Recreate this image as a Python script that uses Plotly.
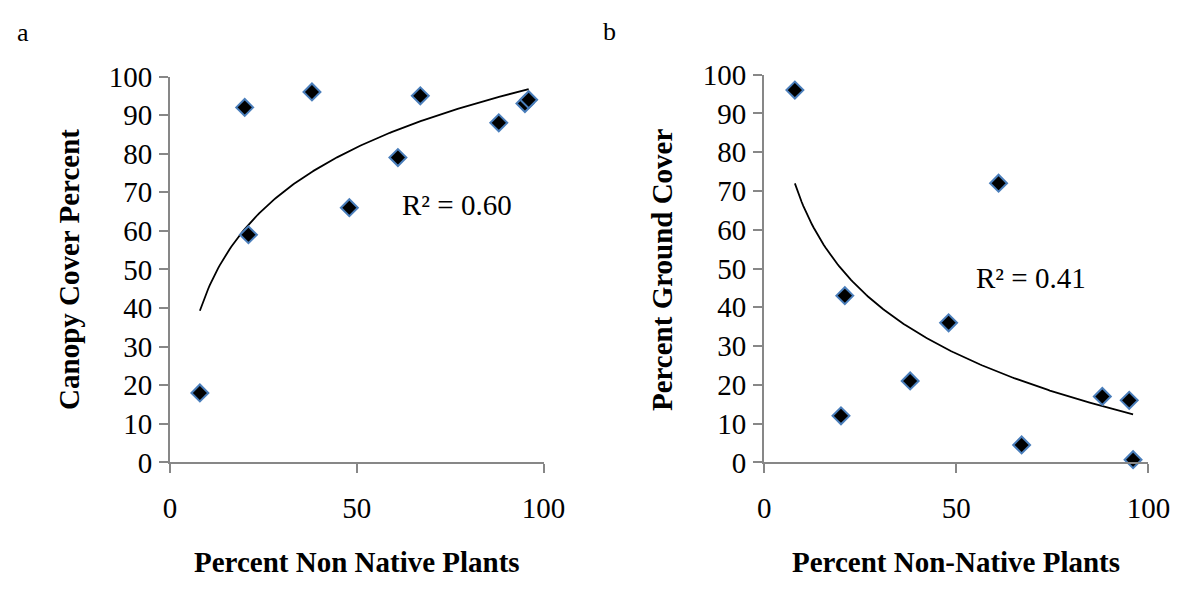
import numpy as np
import plotly.graph_objects as go

# ---- data ----
non_native_a = [8, 20, 21, 38, 48, 61, 67, 88, 95, 96]
canopy_cover = [18, 92, 59, 96, 66, 79, 95, 88, 93, 94]

non_native_b = [8, 20, 21, 38, 48, 61, 67, 88, 95, 96]
ground_cover = [96, 12, 43, 21, 36, 72, 4.5, 17, 16, 0.7]

r2_labels = ["R² = 0.60", "R² = 0.41"]
x_ticks = [0, 50, 100]
y_ticks = list(range(0, 101, 10))

FONT = "Liberation Serif"
AXIS_GREY = "#878787"
MARKER_EDGE = "#4a7ebb"


def log_fit(x, y):
    x = np.asarray(x, float)
    y = np.asarray(y, float)
    a, b = np.polyfit(np.log(x), y, 1)
    xs = np.linspace(x.min(), x.max(), 200)
    return xs, a * np.log(xs) + b


fig = go.Figure()

for i, (xv, yv) in enumerate([(non_native_a, canopy_cover), (non_native_b, ground_cover)]):
    xa = "x" if i == 0 else "x2"
    ya = "y" if i == 0 else "y2"
    xs, ys = log_fit(xv, yv)
    fig.add_trace(go.Scatter(x=xs, y=ys, mode="lines", xaxis=xa, yaxis=ya,
                             line=dict(color="black", width=1.8),
                             showlegend=False, hoverinfo="skip"))
    fig.add_trace(go.Scatter(x=xv, y=yv, mode="markers", xaxis=xa, yaxis=ya,
                             marker=dict(symbol="diamond", size=13, color="black",
                                         line=dict(color=MARKER_EDGE, width=2)),
                             cliponaxis=False, showlegend=False))

axis_common = dict(range=[0, 100], showgrid=False, zeroline=False, showline=True,
                   linecolor=AXIS_GREY, linewidth=2, ticks="outside", ticklen=9,
                   tickwidth=2, tickcolor=AXIS_GREY,
                   tickfont=dict(family=FONT, size=29, color="black"))

fig.update_layout(
    width=1189, height=590,
    margin=dict(l=0, r=0, t=0, b=0),
    paper_bgcolor="white", plot_bgcolor="white",
    xaxis=dict(axis_common, domain=[0.1405, 0.4626], anchor="y",
               tickvals=x_ticks, ticklabelstandoff=10),
    yaxis=dict(axis_common, domain=[0.2, 0.8915], anchor="x",
               tickvals=y_ticks, ticklabelstandoff=1),
    xaxis2=dict(axis_common, domain=[0.6527, 0.984], anchor="y2",
                tickvals=x_ticks, ticklabelstandoff=10),
    yaxis2=dict(axis_common, domain=[0.2, 0.895], anchor="x2",
                tickvals=y_ticks, ticklabelstandoff=1),
)

ann = []
center = dict(xanchor="center", yanchor="middle", showarrow=False)
letter_font = dict(family=FONT, size=26, color="black")
ann.append(dict(center, text="a", x=16 / 1189, y=1 - 17 / 590, xref="paper", yref="paper",
                font=letter_font))
ann.append(dict(center, text="b", x=618 / 1189, y=1 - 16 / 590, xref="paper", yref="paper",
                font=letter_font))
r2_font = dict(family=FONT, size=29, color="black")
ann.append(dict(center, text=r2_labels[0], x=76.8, y=66.7, xref="x", yref="y", font=r2_font))
ann.append(dict(center, text=r2_labels[1], x=69.5, y=47.6, xref="x2", yref="y2", font=r2_font))
title_font = dict(family=FONT, size=29, color="black")
ann.append(dict(center, text="<b>Percent Non Native Plants</b>", x=358.5 / 1189, y=1 - 577 / 590,
                xref="paper", yref="paper", font=title_font))
ann.append(dict(center, text="<b>Percent Non-Native Plants</b>", x=973 / 1189, y=1 - 577 / 590,
                xref="paper", yref="paper", font=title_font))
ann.append(dict(center, text="<b>Canopy Cover Percent</b>", x=64 / 1189, y=1 - 268 / 590,
                xref="paper", yref="paper", textangle=-90, font=title_font))
ann.append(dict(center, text="<b>Percent Ground Cover</b>", x=672 / 1189, y=1 - 268 / 590,
                xref="paper", yref="paper", textangle=-90, font=title_font))
fig.update_layout(annotations=ann)

fig.write_html(
    "out.html",
    config={"displayModeBar": False},
    post_script="document.body.style.margin='0';document.body.style.overflow='hidden';",
)
